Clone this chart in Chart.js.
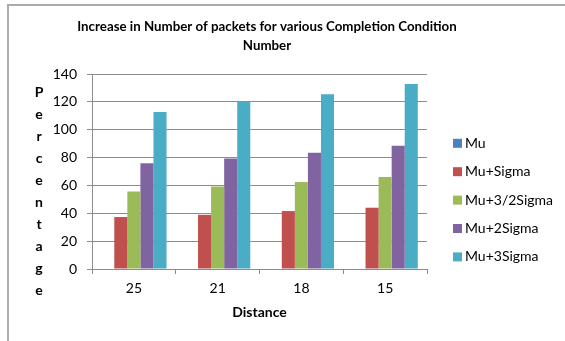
<!DOCTYPE html>
<html>
<head>
<meta charset="utf-8">
<script src="https://cdn.jsdelivr.net/npm/chart.js@4.4.0/dist/chart.umd.min.js"></script>
<style>
  html, body { margin: 0; padding: 0; background: #fff; }
  #wrap { position: relative; width: 565px; height: 341px; overflow: hidden; }
  #frame { position: absolute; left: 7px; top: 4px; width: 620px; height: 400px;
           border: 2px solid #ababab; box-sizing: border-box; }
  canvas { position: absolute; left: 0; top: 0; }
</style>
</head>
<body>
<div id="wrap">
  <div id="frame"></div>
  <canvas id="chart" width="565" height="341"></canvas>
</div>
<script>
// Distance categories along the x axis
const categories = ['25', '21', '18', '15'];

// Series (percentage increase in number of packets)
const seriesNames = ['Mu', 'Mu+Sigma', 'Mu+3/2Sigma', 'Mu+2Sigma', 'Mu+3Sigma'];
const mu          = [0, 0, 0, 0];
const muSigma     = [37.3, 38.9, 41.6, 44.0];
const mu32Sigma   = [55.6, 59.2, 62.4, 66.0];
const mu2Sigma    = [76.0, 79.3, 83.4, 88.4];
const mu3Sigma    = [112.7, 120.0, 125.4, 132.8];
const seriesColors = ['#4F81BD', '#C0504D', '#9BBB59', '#8064A2', '#4BACC6'];

// Axis ticks and captions
const yTicks = [0, 20, 40, 60, 80, 100, 120, 140];
const titleLines = ['Increase in Number of packets for various Completion Condition', 'Number'];
const yTitle = 'Percentage';
const xTitle = 'Distance';

const FONT = 'Lato, "Open Sans", sans-serif';
const GRID = '#8c8c8c';

const seriesValues = [mu, muSigma, mu32Sigma, mu2Sigma, mu3Sigma];

// Chart title, stacked y caption and the legend on the right
const decorations = {
  id: 'decorations',
  afterDraw(chart) {
    const ctx = chart.ctx;
    ctx.save();
    ctx.fillStyle = '#000';
    ctx.textAlign = 'center';
    ctx.textBaseline = 'middle';
    ctx.font = 'bold 13.3px ' + FONT;
    titleLines.forEach((line, i) => ctx.fillText(line, 267, 27 + i * 18.3));

    // vertical caption written one letter per line
    ctx.font = 'bold 14px ' + FONT;
    [...yTitle].forEach((ch, i) => ctx.fillText(ch, 39, 92 + i * 22));

    // legend
    ctx.textAlign = 'left';
    ctx.font = '14px ' + FONT;
    chart.data.datasets.forEach((ds, i) => {
      const cy = 143.3 + i * 28.4;
      ctx.fillStyle = ds.backgroundColor;
      ctx.fillRect(453, cy - 4.5, 9, 9);
      ctx.fillStyle = '#000';
      ctx.fillText(ds.label, 465, cy);
    });
    ctx.restore();
  }
};

new Chart(document.getElementById('chart'), {
  type: 'bar',
  data: {
    labels: categories,
    datasets: seriesNames.map((name, i) => ({
      label: name,
      data: seriesValues[i],
      backgroundColor: seriesColors[i],
      borderWidth: 0,
      categoryPercentage: 0.78,
      barPercentage: 1.0
    }))
  },
  options: {
    responsive: false,
    animation: false,
    devicePixelRatio: 1,
    layout: { padding: { top: 74, left: 0, right: 138, bottom: 17 } },
    plugins: {
      legend: { display: false },
      title: { display: false },
      tooltip: { enabled: false }
    },
    scales: {
      x: {
        grid: { display: true, drawOnChartArea: false, drawTicks: true, tickLength: 5, color: GRID, offset: true },
        border: { display: true, color: GRID, width: 1 },
        ticks: { color: '#000', font: { family: FONT, size: 14 }, padding: 6 },
        title: { display: true, text: xTitle, color: '#000',
                 font: { family: FONT, size: 14, weight: 'bold' }, padding: { top: 4, bottom: 3 } },
        afterFit(scale) { scale.height = 55; }
      },
      y: {
        min: yTicks[0],
        max: yTicks[yTicks.length - 1],
        afterBuildTicks(scale) { scale.ticks = yTicks.map(v => ({ value: v })); },
        grid: { color: GRID, tickLength: 5, drawTicks: true },
        border: { display: true, color: GRID, width: 1 },
        ticks: { color: '#000', font: { family: FONT, size: 14 }, padding: 10 },
        afterFit(scale) { scale.width = 92; }
      }
    }
  },
  plugins: [decorations]
});
</script>
</body>
</html>
